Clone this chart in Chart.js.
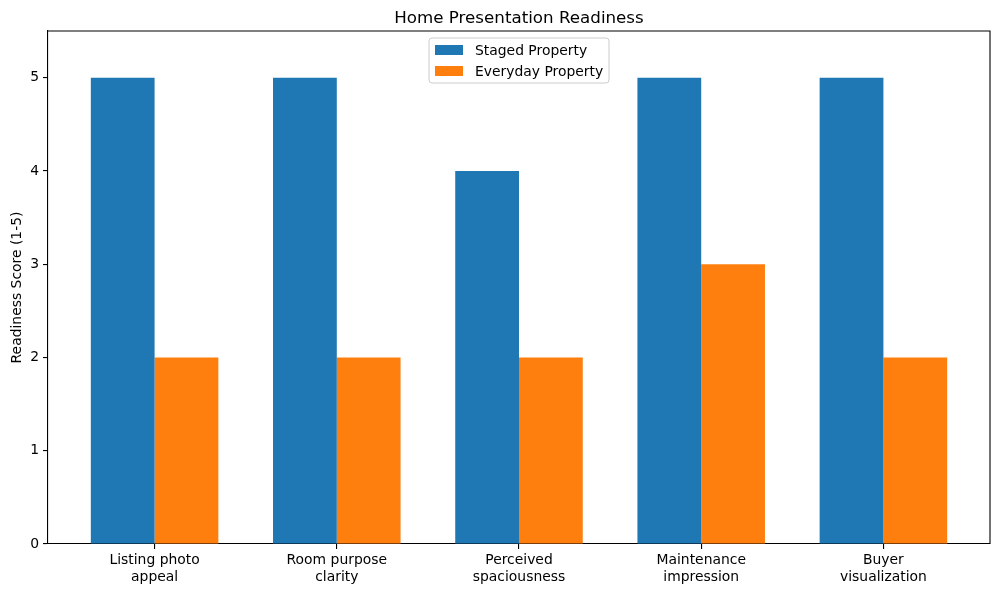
<!DOCTYPE html>
<html>
<head>
<meta charset="utf-8">
<title>Home Presentation Readiness</title>
<script src="https://cdn.jsdelivr.net/npm/chart.js@4.4.1/dist/chart.umd.min.js"></script>
<style>
  html, body { margin: 0; padding: 0; background: #fff; }
  #wrap { width: 1000px; height: 595px; position: relative; }
</style>
</head>
<body>
<div id="wrap"><canvas id="readinessChart"></canvas></div>
<script>
// Data
const categories = ['Listing photo appeal', 'Room purpose clarity', 'Perceived spaciousness', 'Maintenance impression', 'Buyer visualization'];
const tickLabels = [
    ['Listing photo', 'appeal'],
    ['Room purpose', 'clarity'],
    ['Perceived', 'spaciousness'],
    ['Maintenance', 'impression'],
    ['Buyer', 'visualization']
];
const stagedScores = [5, 5, 4, 5, 5];
const everydayScores = [2, 2, 2, 3, 2];
const yTicks = [0, 1, 2, 3, 4, 5];

const FONT = 'DejaVu Sans';
const BLUE = '#1f77b4';
const ORANGE = '#ff7f0e';

// Draws the top/right spines, the title over the plot and the legend inside the plot
const decorPlugin = {
    id: 'decor',
    afterDraw(chart) {
        const ctx = chart.ctx;
        const a = chart.chartArea;
        ctx.save();

        // top + right spines
        ctx.strokeStyle = '#000';
        ctx.lineWidth = 1.1;
        ctx.beginPath();
        ctx.moveTo(a.left, a.top);
        ctx.lineTo(a.right, a.top);
        ctx.lineTo(a.right, a.bottom);
        ctx.stroke();

        // title
        ctx.fillStyle = '#000';
        ctx.font = '16.7px "' + FONT + '"';
        ctx.textAlign = 'center';
        ctx.textBaseline = 'alphabetic';
        ctx.fillText('Home Presentation Readiness', (a.left + a.right) / 2, a.top - 8.3);

        // legend
        const bx = 429, by = 38, bw = 180, bh = 45, r = 3;
        ctx.fillStyle = 'rgba(255,255,255,0.8)';
        ctx.strokeStyle = '#cccccc';
        ctx.lineWidth = 1;
        ctx.beginPath();
        ctx.roundRect(bx, by, bw, bh, r);
        ctx.fill();
        ctx.stroke();

        ctx.font = '13.9px "' + FONT + '"';
        ctx.textAlign = 'left';
        ctx.textBaseline = 'middle';
        chart.data.datasets.forEach((ds, i) => {
            const cy = by + 12 + i * 21;
            ctx.fillStyle = ds.backgroundColor;
            ctx.fillRect(bx + 6, cy - 5, 28, 10);
            ctx.fillStyle = '#000';
            ctx.fillText(ds.label, bx + 46, cy + 1);
        });

        ctx.restore();
    }
};

Chart.defaults.font.family = FONT;
Chart.defaults.color = '#000';

const ctx = document.getElementById('readinessChart').getContext('2d');
const readinessChart = new Chart(ctx, {
    type: 'bar',
    data: {
        datasets: [
            {
                label: 'Staged Property',
                data: stagedScores.map((v, i) => ({ x: i, y: v })),
                backgroundColor: BLUE,
                borderWidth: 0
            },
            {
                label: 'Everyday Property',
                data: everydayScores.map((v, i) => ({ x: i, y: v })),
                backgroundColor: ORANGE,
                borderWidth: 0
            }
        ]
    },
    options: {
        responsive: true,
        maintainAspectRatio: false,
        animation: false,
        categoryPercentage: 0.7,
        barPercentage: 1.0,
        layout: { padding: { top: 31, right: 10, left: 0, bottom: 0 } },
        plugins: {
            legend: { display: false },
            title: { display: false },
            tooltip: { enabled: false }
        },
        scales: {
            x: {
                type: 'linear',
                min: -0.585,
                max: 4.585,
                offset: false,
                afterBuildTicks: scale => {
                    scale.ticks = categories.map((_, i) => ({ value: i }));
                },
                afterFit: scale => { scale.height = 51; },
                ticks: {
                    font: { size: 13.9, lineHeight: 1.2 },
                    padding: 3,
                    maxRotation: 0,
                    autoSkip: false,
                    callback: value => tickLabels[value]
                },
                grid: {
                    offset: false,
                    drawOnChartArea: false,
                    drawTicks: true,
                    tickLength: 5,
                    color: '#000',
                    lineWidth: 1.1
                },
                border: { display: true, color: '#000', width: 1.1 }
            },
            y: {
                min: 0,
                max: 5.5,
                afterBuildTicks: scale => {
                    scale.ticks = yTicks.map(v => ({ value: v }));
                },
                afterFit: scale => { scale.width = 48; },
                ticks: {
                    font: { size: 13.9 },
                    padding: 4
                },
                title: {
                    display: true,
                    text: 'Readiness Score (1-5)',
                    font: { size: 13.9, lineHeight: 1.2 },
                    padding: { top: 8.7, bottom: 0 }
                },
                grid: {
                    drawOnChartArea: false,
                    drawTicks: true,
                    tickLength: 5,
                    color: '#000',
                    lineWidth: 1.1
                },
                border: { display: true, color: '#000', width: 1.1 }
            }
        }
    },
    plugins: [decorPlugin]
});
</script>
</body>
</html>
